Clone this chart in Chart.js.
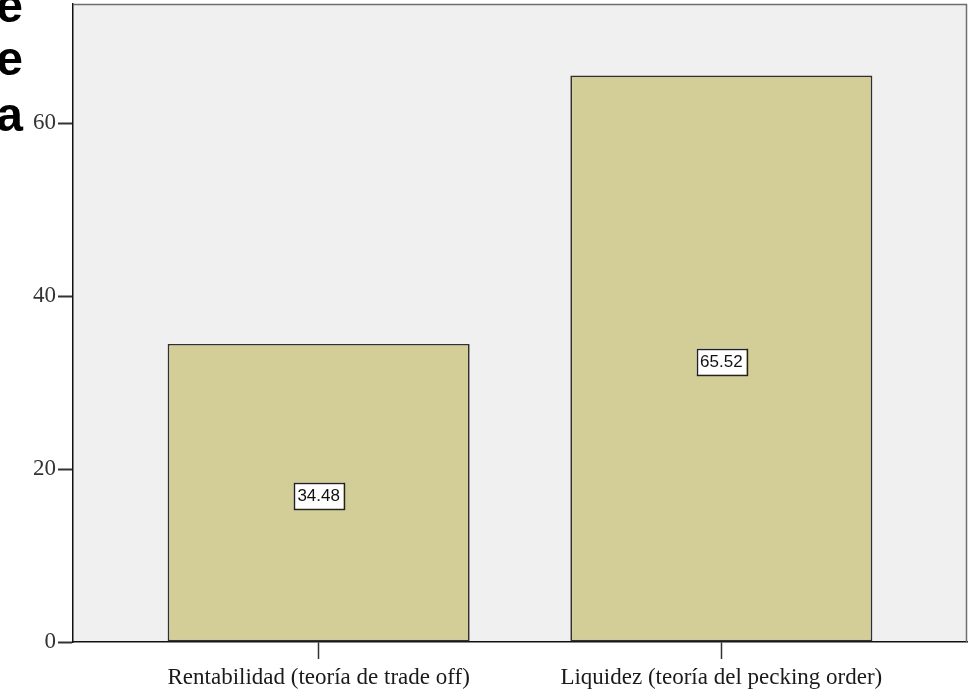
<!DOCTYPE html>
<html>
<head>
<meta charset="utf-8">
<script src="https://cdn.jsdelivr.net/npm/chart.js@4.4.1/dist/chart.umd.min.js"></script>
<style>
  html, body { margin: 0; padding: 0; background: #fff; }
  #wrap { position: relative; width: 977px; height: 691px; }
</style>
</head>
<body>
<div id="wrap"><canvas id="barChart" width="977" height="691"></canvas></div>
<script>
const categories = ['Rentabilidad (teoría de trade off)', 'Liquidez (teoría del pecking order)'];
const percentValues = [34.48, 65.52];
const yTicks = [0, 20, 40, 60];
const sideLetters = ['e', 'e', 'a'];

// plot panel fill, frame and the boxed value labels
const panelPlugin = {
    id: 'panel',
    beforeDraw(chart) {
        const a = chart.chartArea;
        const ctx = chart.ctx;
        ctx.save();
        ctx.fillStyle = '#f0f0f0';
        ctx.fillRect(a.left, a.top, a.right - a.left, a.bottom - a.top);
        ctx.restore();
    },
    afterDraw(chart) {
        const a = chart.chartArea;
        const ctx = chart.ctx;
        ctx.save();
        ctx.strokeStyle = '#6e6e6e';
        ctx.lineWidth = 1.5;
        ctx.beginPath();
        ctx.moveTo(a.left, a.top + 0.5);
        ctx.lineTo(a.right - 0.5, a.top + 0.5);
        ctx.lineTo(a.right - 0.5, a.bottom);
        ctx.stroke();

        ctx.font = '17px "Liberation Sans", Arial, sans-serif';
        ctx.textAlign = 'center';
        ctx.textBaseline = 'middle';
        chart.getDatasetMeta(0).data.forEach(function (bar, i) {
            const txt = percentValues[i].toFixed(2);
            const w = ctx.measureText(txt).width + 7;
            const h = 26;
            const cx = bar.x;
            const cy = (bar.y + bar.base) / 2 + 3;
            ctx.fillStyle = '#ffffff';
            ctx.fillRect(cx - w / 2, cy - h / 2, w, h);
            ctx.strokeStyle = '#222';
            ctx.lineWidth = 1.4;
            ctx.strokeRect(Math.round(cx - w / 2) + 0.5, Math.round(cy - h / 2) + 0.5, Math.round(w), h);
            ctx.fillStyle = '#111';
            ctx.fillText(txt, cx, cy + 1);
        });

        // cut-off heading letters at the left edge
        ctx.font = 'bold 48px "Liberation Sans", Arial, sans-serif';
        ctx.textAlign = 'right';
        ctx.textBaseline = 'alphabetic';
        ctx.fillStyle = '#000';
        const baselines = [22, 75, 131];
        sideLetters.forEach(function (ch, i) {
            ctx.fillText(ch, 23, baselines[i]);
        });
        ctx.restore();
    }
};

const ctx = document.getElementById('barChart');
new Chart(ctx, {
    type: 'bar',
    data: {
        datasets: [{
            data: percentValues.map(function (v, i) { return { x: i, y: v }; }),
            backgroundColor: '#d3ce98',
            borderColor: '#303030',
            borderWidth: 1.7,
            borderSkipped: false,
            barPercentage: 0.75,
            categoryPercentage: 1
        }]
    },
    options: {
        responsive: false,
        animation: false,
        layout: { padding: { top: 4, right: 10, left: 0, bottom: 0 } },
        plugins: { legend: { display: false }, tooltip: { enabled: false } },
        scales: {
            x: {
                type: 'linear',
                offset: false,
                min: -0.61,
                max: 1.61,
                afterBuildTicks(scale) {
                    scale.ticks = categories.map(function (c, i) { return { value: i }; });
                },
                afterFit(scale) {
                    scale.height = 49;
                    scale.paddingLeft = 0;
                    scale.paddingRight = 0;
                },
                ticks: {
                    callback: function (v) { return categories[v]; },
                    font: { family: '"Liberation Serif", "Times New Roman", serif', size: 23 },
                    color: '#1a1a1a',
                    padding: 5,
                    maxRotation: 0,
                    autoSkip: false
                },
                grid: { drawOnChartArea: false, offset: false, tickLength: 17, color: '#333', tickWidth: 1.5 },
                border: { color: '#111', width: 1.5 }
            },
            y: {
                min: 0,
                max: 73.8,
                afterBuildTicks(scale) {
                    scale.ticks = yTicks.map(function (v) { return { value: v }; });
                },
                afterFit(scale) {
                    scale.width = 73;
                    scale.paddingTop = 0;
                    scale.paddingBottom = 0;
                },
                ticks: {
                    font: { family: '"Liberation Serif", "Times New Roman", serif', size: 23 },
                    color: '#333',
                    padding: 2
                },
                grid: { drawOnChartArea: false, tickLength: 15, color: '#333', tickWidth: 2 },
                border: { color: '#111', width: 1.5 }
            }
        }
    },
    plugins: [panelPlugin]
});
</script>
</body>
</html>
